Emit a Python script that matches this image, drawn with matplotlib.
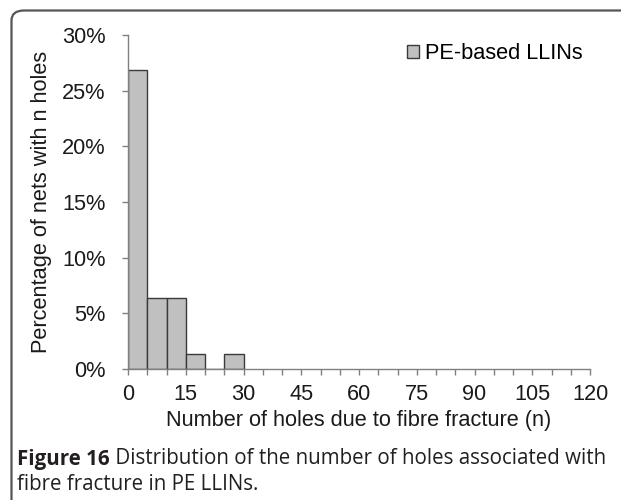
import matplotlib
matplotlib.use("Agg")
import matplotlib.pyplot as plt
from matplotlib.patches import FancyBboxPatch
from matplotlib.ticker import MultipleLocator, FuncFormatter

bin_edges = [0, 5, 10, 15, 20, 25]
percentages = [26.9, 6.4, 6.4, 1.35, 0.0, 1.35]
series_label = "PE-based LLINs"
x_label = "Number of holes due to fibre fracture (n)"
y_label = "Percentage of nets with n holes"
caption_bold = "Figure 16"
caption_rest_1 = " Distribution of the number of holes associated with"
caption_line_2 = "fibre fracture in PE LLINs."

W, H = 621, 500
fig = plt.figure(figsize=(W/100, H/100), dpi=100)
fig.patch.set_facecolor("white")

# rounded frame (extends beyond right and bottom edges)
frame = FancyBboxPatch((11.5/W, -0.2), 1.2, 1.2 - 10.5/H, boxstyle="round,pad=0,rounding_size=0.02",
                       transform=fig.transFigure, fill=False, edgecolor="#555555", linewidth=1.6)
fig.patches.append(frame)

font = "Liberation Sans"
fs = 15.7
tc = "#1a1a1a"

ax = fig.add_axes([128/W, 1-369/H, (590-128)/W, (369-35)/H])
ax.bar(bin_edges, percentages, width=5, align="edge", color="#c0c0c0",
       edgecolor="#3a3a3a", linewidth=1.0, label=series_label, zorder=2)
ax.set_xlim(0, 120)
ax.set_ylim(0, 30)
ax.xaxis.set_major_locator(MultipleLocator(15))
ax.xaxis.set_minor_locator(MultipleLocator(5))
ax.yaxis.set_major_locator(MultipleLocator(5))
ax.yaxis.set_major_formatter(FuncFormatter(lambda v, p: f"{v:.0f}%"))
for s in ["top", "right"]:
    ax.spines[s].set_visible(False)
for s in ["left", "bottom"]:
    ax.spines[s].set_color("#808080")
    ax.spines[s].set_linewidth(1.0)
ax.tick_params(axis="both", which="both", direction="out", color="#808080", width=1.0,
               labelsize=fs, labelcolor=tc)
ax.tick_params(axis="x", which="major", length=4, pad=6.5)
ax.tick_params(axis="x", which="minor", length=4)
ax.tick_params(axis="y", length=4, pad=12)
for lab in ax.get_xticklabels() + ax.get_yticklabels():
    lab.set_fontfamily(font)
ax.set_xlabel(x_label, fontsize=fs, fontfamily=font, color=tc, labelpad=4)
ax.set_ylabel(y_label, fontsize=fs, fontfamily=font, color=tc)
ax.yaxis.set_label_coords((52 - 128) / (590 - 128), 0.5)

leg = ax.legend(loc="upper right", bbox_to_anchor=(1.012, 1.015), frameon=False,
                prop={"family": font, "size": fs}, handlelength=0.55, handleheight=0.55,
                handletextpad=0.25, borderaxespad=0.2)

# caption
cap_fs = 14.8
cc = "#231f20"
t1 = fig.text(17/W, 1-459/H, caption_bold, fontsize=cap_fs, fontweight="bold",
              fontfamily="Open Sans", color=cc, va="center", ha="left")
fig.canvas.draw()
bb = t1.get_window_extent()
fig.text(bb.x1/W, 1-459/H, caption_rest_1, fontsize=cap_fs, fontfamily="Open Sans",
         color=cc, va="center", ha="left")
fig.text(17/W, 1-485/H, caption_line_2, fontsize=cap_fs, fontfamily="Open Sans",
         color=cc, va="center", ha="left")

fig.savefig("out.png", dpi=100, facecolor="white")
